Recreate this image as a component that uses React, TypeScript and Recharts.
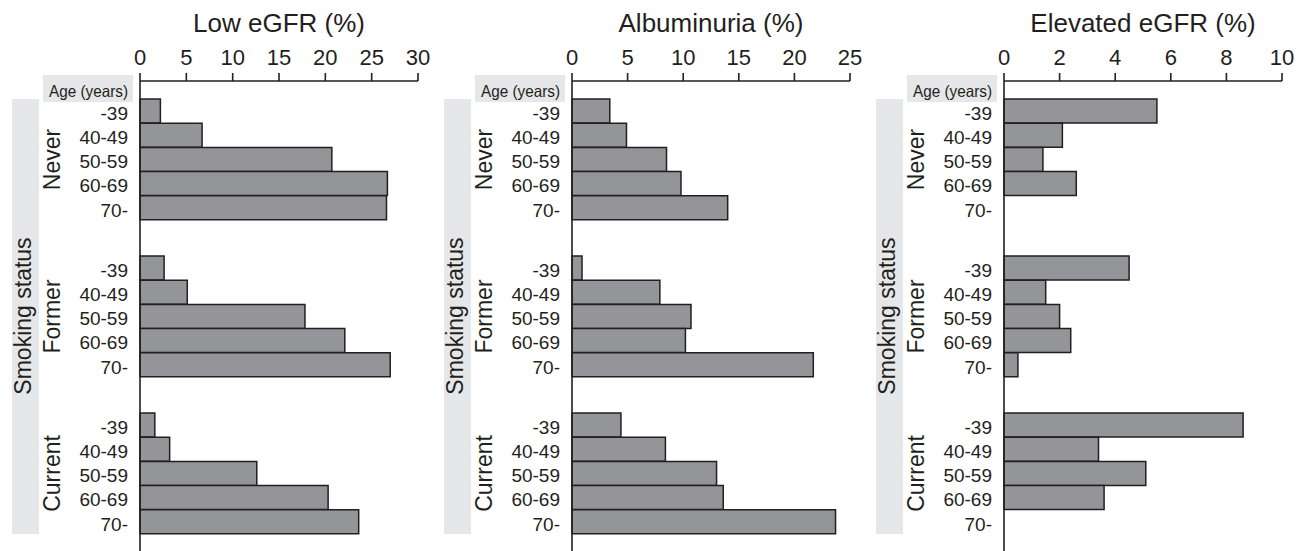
import { BarChart, Bar, XAxis, YAxis, Label } from 'recharts';

const ageGroups = ['-39', '40-49', '50-59', '60-69', '70-'];
const smokingGroups = ['Never', 'Former', 'Current'];

const lowEgfrTicks = [0, 5, 10, 15, 20, 25, 30];
const lowEgfrNever = [2.2, 6.7, 20.7, 26.7, 26.6];
const lowEgfrFormer = [2.6, 5.1, 17.8, 22.1, 27.0];
const lowEgfrCurrent = [1.6, 3.2, 12.6, 20.3, 23.6];

const albuminuriaTicks = [0, 5, 10, 15, 20, 25];
const albuminuriaNever = [3.4, 4.9, 8.5, 9.8, 14.0];
const albuminuriaFormer = [0.9, 7.9, 10.7, 10.2, 21.7];
const albuminuriaCurrent = [4.4, 8.4, 13.0, 13.6, 23.7];

const elevatedTicks = [0, 2, 4, 6, 8, 10];
const elevatedNever = [5.5, 2.1, 1.4, 2.6, null];
const elevatedFormer = [4.5, 1.5, 2.0, 2.4, 0.5];
const elevatedCurrent = [8.6, 3.4, 5.1, 3.6, null];

const INK = '#231f20';
const BAR_FILL = '#939598';
const SHADE = '#e6e7e8';
const FONT = '"Liberation Sans", Arial, Helvetica, sans-serif';

interface Panel {
  title: string;
  ticks: number[];
  series: (number | null)[][];
}

const panels: Panel[] = [
  { title: 'Low eGFR (%)', ticks: lowEgfrTicks, series: [lowEgfrNever, lowEgfrFormer, lowEgfrCurrent] },
  { title: 'Albuminuria (%)', ticks: albuminuriaTicks, series: [albuminuriaNever, albuminuriaFormer, albuminuriaCurrent] },
  { title: 'Elevated eGFR (%)', ticks: elevatedTicks, series: [elevatedNever, elevatedFormer, elevatedCurrent] },
];

// one chart per smoking group, stacked so the y axis line runs on
const slices = [
  { top: 0, height: 237, padTop: 18, padBottom: 17, withAxis: true, mid: 159.5 },
  { top: 237, height: 158, padTop: 19, padBottom: 18, withAxis: false, mid: 316.5 },
  { top: 395, height: 156, padTop: 18, padBottom: 17, withAxis: false, mid: 473.5 },
];

function GroupChart({ panel, groupIndex }: { panel: Panel; groupIndex: number }) {
  const s = slices[groupIndex];
  const data = ageGroups.map((age, i) => ({ age, value: panel.series[groupIndex][i] }));
  const max = panel.ticks[panel.ticks.length - 1];
  return (
    <div style={{ position: 'absolute', left: 0, top: s.top }}>
      <BarChart
        width={432}
        height={s.height}
        data={data}
        layout="vertical"
        barCategoryGap={0}
        margin={{ top: s.withAxis ? 37 : 0, right: 14, bottom: 0, left: 0 }}
      >
        <XAxis
          type="number"
          domain={[0, max]}
          ticks={panel.ticks}
          interval={0}
          orientation="top"
          hide={!s.withAxis}
          height={44}
          axisLine={{ stroke: INK, strokeWidth: 1.6 }}
          tickLine={{ stroke: INK, strokeWidth: 1.6 }}
          tickSize={8}
          tickMargin={8}
          tick={{ fill: INK, fontSize: 22, fontFamily: FONT }}
        >
          <Label value={panel.title} position="top" offset={5} fill={INK} fontSize={26} fontFamily={FONT} />
        </XAxis>
        <YAxis
          type="category"
          dataKey="age"
          width={140}
          interval={0}
          padding={{ top: s.padTop, bottom: s.padBottom }}
          tickLine={false}
          tickSize={0}
          tickMargin={12}
          axisLine={{ stroke: INK, strokeWidth: 1.6 }}
          tick={{ fill: INK, fontSize: 19, fontFamily: FONT, dy: 2 }}
        />
        <Bar dataKey="value" fill={BAR_FILL} stroke={INK} strokeWidth={1.5} isAnimationActive={false} />
      </BarChart>
    </div>
  );
}

function PanelBlock({ panel, index }: { panel: Panel; index: number }) {
  return (
    <div style={{ position: 'absolute', left: 432 * index, top: 0, width: 432, height: 551 }}>
      <div style={{ position: 'absolute', left: 12, top: 99, width: 27, height: 435, background: SHADE }} />
      <div style={{ position: 'absolute', left: 43, top: 75, width: 90, height: 27, background: SHADE }} />
      {smokingGroups.map((g, gi) => (
        <GroupChart key={g} panel={panel} groupIndex={gi} />
      ))}
      <svg width={140} height={551} style={{ position: 'absolute', left: 0, top: 0, pointerEvents: 'none' }}>
        <text
          x={128}
          y={97}
          textAnchor="end"
          fontSize={16.5}
          fontFamily={FONT}
          fill={INK}
          textLength={79}
          lengthAdjust="spacingAndGlyphs"
        >
          Age (years)
        </text>
        <text
          x={0}
          y={0}
          transform="translate(30.5,316) rotate(-90)"
          textAnchor="middle"
          fontSize={23}
          fontFamily={FONT}
          fill={INK}
        >
          Smoking status
        </text>
        {smokingGroups.map((g, gi) => (
          <text
            key={g}
            x={0}
            y={0}
            transform={`translate(60,${slices[gi].mid}) rotate(-90)`}
            textAnchor="middle"
            fontSize={23}
            fontFamily={FONT}
            fill={INK}
          >
            {g}
          </text>
        ))}
      </svg>
    </div>
  );
}

export default function App() {
  return (
    <div style={{ position: 'absolute', left: 0, top: 0, width: 1305, height: 551, background: '#fff', fontFamily: FONT }}>
      {panels.map((p, i) => (
        <PanelBlock key={p.title} panel={p} index={i} />
      ))}
    </div>
  );
}
